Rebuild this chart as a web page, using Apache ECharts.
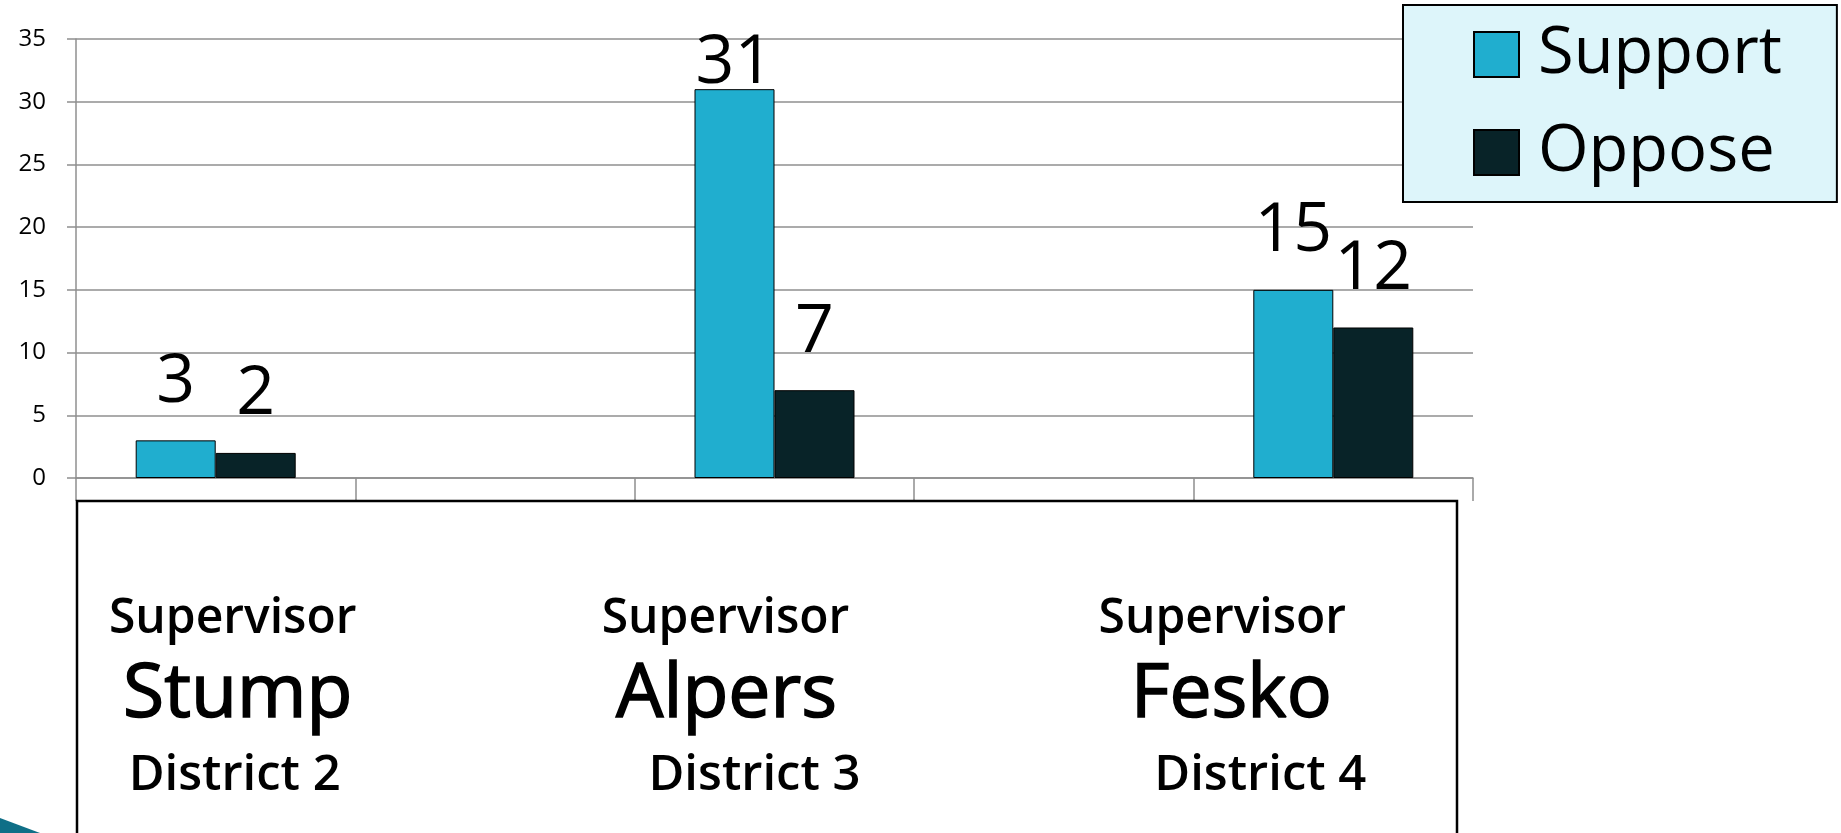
<!DOCTYPE html>
<html>
<head>
<meta charset="utf-8">
<title>Support / Oppose by Supervisor</title>
<script src="https://cdn.jsdelivr.net/npm/echarts@6.0.0/dist/echarts.min.js"></script>
<style>
  html, body { margin: 0; padding: 0; background: #fff; }
  #chart { width: 1841px; height: 833px; }
</style>
</head>
<body>
<div id="chart"></div>
<script>
// data
const categories = ['Stump', '', 'Alpers', '', 'Fesko']
const titles = ['Supervisor', '', 'Supervisor', '', 'Supervisor']
const districts = ['District 2', '', 'District 3', '', 'District 4']
const supportValues = [3, null, 31, null, 15]
const opposeValues = [2, null, 7, null, 12]
const seriesNames = ['Support', 'Oppose']

const FONT = '"Open Sans", "DejaVu Sans", sans-serif'
const GRAY = '#8f8f8f'

// labels under the axis are not centred on the categories in the original,
// shift each line a bit (px from category centre)
const shiftTitle = [17, 0, -49, 0, -111]
const shiftName = [22, 0, -48, 0, -102]
const shiftDistrict = [19, 0, -20, 0, -73]

const chart = echarts.init(document.getElementById('chart'))

const barLabel = {
  show: true,
  position: 'top',
  distance: 24,
  fontSize: 68,
  fontFamily: FONT,
  color: '#000',
}

const toItems = (vals) =>
  vals.map((v) =>
    v == null ? null : { value: v, label: { distance: v >= 30 ? -8 : 24 } }
  )

chart.setOption({
  animation: false,
  grid: { left: 76, top: 39, width: 1397, height: 439 },
  legend: {
    data: seriesNames,
    orient: 'vertical',
    left: 1403,
    top: 5,
    padding: [17, 55, 17, 70],
    backgroundColor: '#ddf5fa',
    borderColor: '#000',
    borderWidth: 2,
    itemWidth: 45,
    itemHeight: 45,
    itemGap: 33,
    icon: 'rect',
    textStyle: {
      fontSize: 65,
      lineHeight: 65,
      fontFamily: FONT,
      color: '#000',
      padding: [0, 0, 0, 14],
    },
  },
  xAxis: {
    type: 'category',
    data: categories,
    axisLine: { lineStyle: { color: GRAY, width: 1.5 } },
    axisTick: { show: true, length: 23, interval: 0, lineStyle: { color: GRAY, width: 1.5 } },
    axisLabel: { show: false },
  },
  yAxis: {
    type: 'value',
    min: 0,
    max: 35,
    interval: 5,
    axisLine: { show: true, lineStyle: { color: GRAY, width: 1.5 } },
    axisTick: { show: true, length: 9, lineStyle: { color: GRAY, width: 1.5 } },
    splitLine: { lineStyle: { color: GRAY, width: 1.5 } },
    axisLabel: { fontSize: 24, fontFamily: FONT, color: '#000', margin: 30 },
  },
  series: [
    {
      name: seriesNames[0],
      type: 'bar',
      data: toItems(supportValues),
      barWidth: 80,
      barGap: '0%',
      itemStyle: { color: '#20aecf', borderColor: '#000', borderWidth: 1 },
      label: barLabel,
    },
    {
      name: seriesNames[1],
      type: 'bar',
      data: toItems(opposeValues),
      barWidth: 80,
      barGap: '0%',
      itemStyle: { color: '#082328', borderColor: '#000', borderWidth: 1 },
      label: barLabel,
    },
  ],
})

// the label box under the chart + names, placed from the category axis
const graphics = [
  {
    type: 'rect',
    shape: { x: 77, y: 501, width: 1380, height: 400 },
    style: { fill: 'none', stroke: '#000', lineWidth: 2.5 },
    z: 10,
  },
  {
    type: 'polygon',
    shape: { points: [[0, 818], [40, 833], [0, 833]] },
    style: { fill: '#0f6f87' },
  },
]

categories.forEach((name, i) => {
  if (!name) return
  const cx = chart.convertToPixel({ xAxisIndex: 0 }, i)
  const txt = (text, x, y, size, weight, thick) => ({
    type: 'text',
    x: x,
    y: y,
    style: {
      text: text,
      fill: '#000',
      stroke: thick ? '#000' : null,
      lineWidth: thick || 0,
      font: weight + ' ' + size + 'px ' + FONT,
      textAlign: 'center',
      textVerticalAlign: 'middle',
    },
    z: 10,
  })
  graphics.push(txt(titles[i], cx + shiftTitle[i], 619, 48, 600))
  graphics.push(txt(name, cx + shiftName[i], 696, 75, 'normal', 1.6))
  graphics.push(txt(districts[i], cx + shiftDistrict[i], 776, 49, 600))
})

chart.setOption({ graphic: graphics })
</script>
</body>
</html>
